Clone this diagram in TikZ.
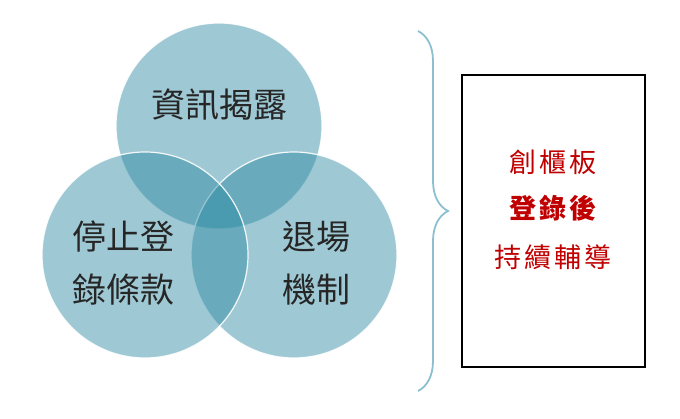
\documentclass[tikz,border=0pt]{standalone}
\usepackage{fontspec}
\newfontfamily\cjkfont{Noto Sans CJK TC}
\newfontfamily\cjkwide[LetterSpace=11]{Noto Sans CJK TC}
\usetikzlibrary{decorations.pathreplacing}
\definecolor{venncol}{RGB}{40,135,160}
\definecolor{bracecol}{RGB}{140,192,208}
\definecolor{boardred}{RGB}{192,0,0}

\begin{document}
\begin{tikzpicture}[x=1pt,y=-1pt,
  venn/.style={circle,minimum size=206pt,inner sep=0pt,fill=venncol,
               fill opacity=0.45,draw=white,draw opacity=0.9,line width=1.2pt},
  lbl/.style={font=\cjkfont\fontsize{34}{53}\selectfont,text=black!85,
              align=left,inner sep=0pt},
  redline/.style={font=\cjkwide\fontsize{27}{30}\selectfont,text=boardred,inner sep=0pt}]
\useasboundingbox (0,0) rectangle (680,419);
% three overlapping circles
\node[venn] (info) at (219,126) {};
\node[venn] (exit) at (294,255) {};
\node[venn] (stop) at (145,255) {};
\node[lbl] (infotxt) at (219,105) {資訊揭露};
\node[lbl,anchor=west] (stoptxt) at (72,263) {停止登\\錄條款};
\node[lbl,anchor=west] (exittxt) at (282,263) {退場\\機制};
% brace and board
\coordinate (btop) at (418,31);
\coordinate (bbot) at (418,391);
\draw[bracecol,line width=1.8pt,decorate,decoration={brace,amplitude=30pt}] (btop) -- (bbot);
\node[draw,line width=2.2pt,minimum width=183pt,minimum height=292pt,inner sep=0pt] (board) at (553.5,221) {};
\node[redline] (l1) at (553,162) {創櫃板};
\node[redline,font=\cjkwide\bfseries\fontsize{27}{30}\selectfont] (l2) at (553,208) {登錄後};
\node[redline] (l3) at (553,257) {持續輔導};
\end{tikzpicture}
\end{document}
